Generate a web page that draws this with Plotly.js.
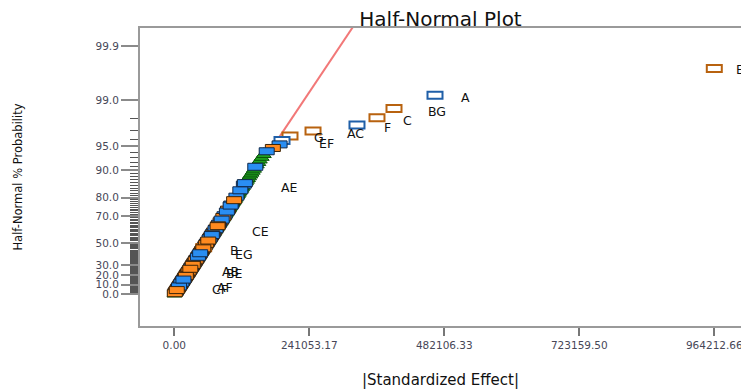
<!DOCTYPE html>
<html>
<head>
<meta charset="utf-8">
<script src="https://cdn.plot.ly/plotly-3.0.1.min.js"></script>
<style>
  html, body { margin: 0; padding: 0; background: #fff; overflow: hidden; }
  #chart { width: 741px; height: 392px; }
</style>
</head>
<body>
<div id="chart"></div>
<script>
// |Standardized effect| of every term, sorted ascending, in thousands
const effectK = [
  0.3, 0.9, 1.5, 2.1, 2.6, 3.2, 3.9, 4.4, 5.0, 5.7,
  6.2, 6.8, 7.5, 8.0, 8.5, 9.2, 9.9, 10.3, 10.9, 11.7,
  12.1, 12.7, 13.5, 13.9, 14.5, 15.3, 15.7, 16.3, 17.0, 17.6,
  18.2, 18.8, 19.3, 20.1, 20.6, 21.2, 22.0, 22.4, 23.1, 23.7,
  24.3, 25.0, 25.5, 26.1, 26.8, 27.5, 28.0, 28.6, 29.3, 29.9,
  30.6, 31.1, 31.9, 32.5, 33.0, 33.8, 34.3, 35.0, 35.7, 36.2,
  37.0, 37.7, 38.2, 39.0, 39.6, 40.2, 41.0, 41.6, 42.2, 42.9,
  43.5, 44.3, 44.9, 45.6, 46.2, 47.0, 47.6, 48.3, 49.1, 49.7,
  50.4, 51.2, 51.8, 52.4, 53.3, 54.1, 54.7, 55.5, 56.2, 56.9,
  57.7, 58.4, 59.3, 60.0, 60.7, 61.6, 62.3, 63.0, 63.8, 64.5,
  65.4, 66.2, 67.0, 67.8, 68.8, 69.4, 70.4, 71.2, 71.9, 72.8,
  73.6, 74.6, 75.5, 76.3, 77.3, 78.1, 79.1, 79.9, 80.9, 81.7,
  82.7, 83.8, 84.6, 85.8, 86.7, 87.5, 88.7, 89.6, 90.7, 91.6,
  92.8, 93.9, 95.1, 96.0, 97.4, 98.3, 99.5, 100.6, 101.8, 102.9,
  104.3, 105.5, 106.8, 108.3, 109.5, 110.9, 112.3, 113.5, 115.0, 116.2,
  117.9, 119.5, 121.0, 122.6, 124.2, 126.0, 127.9, 129.7, 131.5, 133.4,
  135.6, 137.8, 140.0, 142.3, 144.6, 147.2, 150.0, 152.6, 156.0, 159.8,
  165.0, 176.0, 188.0, 192.3, 206.6, 247.7, 326.2, 361.9, 392.3, 465.5, 964.21266
];

// Kind of each term, same order: o = positive effect, b = negative effect,
// g = error estimate, O / B = selected positive / negative term
const termKinds = (
  "gogobogoog" + "oogobogoog" + "obgoogoboo" + "gooboogobo" +
  "ogobogoogb" + "oogboobgoo" + "bgobooggbo" + "ogbbbgoogo" +
  "bgoOobgogo" + "bogboggbog" + "ogbogbgogg" + "boggoogbgg" +
  "ogbggogbgg" + "gbgogggbbg" + "ggoggbgggg" + "bgggbbgggg" +
  "ggggbggggg" + "bobBOOBOOBO"
).split("");

// Term names and where they are written (effect, half-normal %)
const termLabels  = ["E", "A", "BG", "C", "F", "AC", "G", "EF", "AE", "CE", "B", "EG", "AB", "BE", "CF", "AF"];
const labelEffect = [1010100, 519100, 468200, 416400, 380700, 324400, 258400, 271800,
                     205700, 153900, 106600, 125300, 100400, 107500, 81600, 90500];
const labelProb   = [99.707, 99.11, 98.46, 97.88, 97.30, 96.69, 96.23, 95.44,
                     84.09, 59.72, 44.10, 40.47, 22.99, 20.95, 4.77, 6.88];

// Reference line through the origin (effect, half-normal %)
const fitEffect = [0, 332300];
const fitProb   = [0, 99.978];

// Axis ticks
const probTicks     = [0, 10, 20, 30, 50, 70, 80, 90, 95, 99, 99.9];
const probTickText  = ["0.0", "10.0", "20.0", "30.0", "50.0", "70.0", "80.0", "90.0", "95.0", "99.0", "99.9"];
const effectTicks    = [0, 241053.17, 482106.33, 723159.50, 964212.66];
const effectTickText = ["0.00", "241053.17", "482106.33", "723159.50", "964212.66"];

// Inverse standard normal CDF (Acklam's rational approximation)
function probit(p) {
  const a = [-3.969683028665376e+01, 2.209460984245205e+02, -2.759285104469687e+02,
             1.383577518672690e+02, -3.066479806614716e+01, 2.506628277459239e+00];
  const b = [-5.447609879822406e+01, 1.615858368580409e+02, -1.556989798598866e+02,
             6.680131188771972e+01, -1.328068155288572e+01];
  const c = [-7.784894002430293e-03, -3.223964580411365e-01, -2.400758277161838e+00,
             -2.549732539343734e+00, 4.374664141464968e+00, 2.938163982698783e+00];
  const d = [7.784695709041462e-03, 3.224671290700398e-01, 2.445134137142996e+00,
             3.754408661907416e+00];
  const pl = 0.02425, ph = 1 - pl;
  let q, r;
  if (p < pl) {
    q = Math.sqrt(-2 * Math.log(p));
    return (((((c[0]*q + c[1])*q + c[2])*q + c[3])*q + c[4])*q + c[5]) /
           ((((d[0]*q + d[1])*q + d[2])*q + d[3])*q + 1);
  }
  if (p <= ph) {
    q = p - 0.5; r = q * q;
    return (((((a[0]*r + a[1])*r + a[2])*r + a[3])*r + a[4])*r + a[5]) * q /
           (((((b[0]*r + b[1])*r + b[2])*r + b[3])*r + b[4])*r + 1);
  }
  q = Math.sqrt(-2 * Math.log(1 - p));
  return -(((((c[0]*q + c[1])*q + c[2])*q + c[3])*q + c[4])*q + c[5]) /
          ((((d[0]*q + d[1])*q + d[2])*q + d[3])*q + 1);
}
// Half-normal probability scale: percent -> position on the y axis
const halfNormal = pct => probit(0.5 + pct / 200);

// Plotting positions of the ranked effects
const n = effectK.length;
const effects = effectK.map(v => v * 1000);
const ypos = effects.map((_, i) => halfNormal(100 * (i + 0.5) / n));

// Minor ticks at every whole percent
const minorVals = [];
for (let k = 1; k < 99; k++) {
  if (probTicks.indexOf(k) < 0) minorVals.push(halfNormal(k));
}

const kindStyle = {
  o: { fill: "#ff8a1f", line: "#3d2408", width: 1 },
  b: { fill: "#2a8ef2", line: "#11294a", width: 1 },
  O: { fill: "#ffffff", line: "#b8620f", width: 2 },
  B: { fill: "#ffffff", line: "#1f5fa8", width: 2 }
};

// Terms are painted in model-term order rather than by rank, so the
// overlapping markers in the dense part of the band interleave.
const paintOrder = [];
for (let k = 0; k < n; k++) paintOrder.push((k * 67) % n);

// Rectangular markers for the effect terms (pixel-sized, anchored at data points)
const shapes = [];
paintOrder.forEach(i => {
  const s = kindStyle[termKinds[i]];
  if (!s) return;
  shapes.push({
    type: "rect", xref: "x", yref: "y",
    xsizemode: "pixel", ysizemode: "pixel",
    xanchor: effects[i], yanchor: ypos[i],
    x0: -7.5, x1: 7.5, y0: -3.5, y1: 3.5,
    fillcolor: s.fill, line: { color: s.line, width: s.width }
  });
});

const errX = [], errY = [];
effects.forEach((x, i) => { if (termKinds[i] === "g") { errX.push(x); errY.push(ypos[i]); } });

const traces = [
  {
    type: "scatter", mode: "lines",
    x: fitEffect, y: fitProb.map(halfNormal),
    line: { color: "#f27878", width: 2 },
    hoverinfo: "skip"
  },
  {
    type: "scatter", mode: "markers",
    x: errX, y: errY,
    marker: { symbol: "triangle-up", size: 13, color: "#1fa01f", line: { color: "#0b560b", width: 1 } },
    hoverinfo: "x"
  }
];

const annotations = termLabels.map((t, i) => ({
  x: labelEffect[i], y: halfNormal(labelProb[i]),
  xref: "x", yref: "y", text: t, showarrow: false,
  xanchor: "center", yanchor: "middle",
  font: { family: "DejaVu Sans, sans-serif", size: 12.5, color: "#111" }
}));

const tickFont = { family: "DejaVu Sans, sans-serif", size: 10.5, color: "#474757" };

const layout = {
  width: 741, height: 392,
  margin: { l: 140, r: 0, t: 28, b: 66, pad: 0 },
  paper_bgcolor: "#fff", plot_bgcolor: "#fff",
  showlegend: false,
  font: { family: "DejaVu Sans, sans-serif", color: "#111" },
  title: {
    text: "Half-Normal Plot",
    font: { family: "DejaVu Sans, sans-serif", size: 20, color: "#111" },
    xref: "paper", x: 0.5, xanchor: "center",
    yref: "container", y: 1 - 19 / 392, yanchor: "middle"
  },
  xaxis: {
    range: [-61245, 1011890],
    tickmode: "array", tickvals: effectTicks, ticktext: effectTickText,
    ticks: "outside", ticklen: 8, tickwidth: 1.5, tickcolor: "#777",
    ticklabeloverflow: "allow",
    showline: true, linecolor: "#9a9a9a", linewidth: 2, mirror: true,
    showgrid: false, zeroline: false, automargin: false,
    tickfont: tickFont,
    title: { text: "|Standardized Effect|", font: { family: "DejaVu Sans, sans-serif", size: 15, color: "#111" }, standoff: 25 }
  },
  yaxis: {
    range: [-0.425, 3.5325],
    tickmode: "array", tickvals: probTicks.map(halfNormal), ticktext: probTickText,
    ticks: "outside", ticklen: 17, tickwidth: 1.5, tickcolor: "#8a8a8a",
    minor: { tickmode: "array", tickvals: minorVals, ticks: "outside", ticklen: 8, tickwidth: 1, tickcolor: "#555", showgrid: false },
    showline: true, linecolor: "#9a9a9a", linewidth: 2,
    showgrid: false, zeroline: false, automargin: false,
    tickfont: tickFont,
    title: { text: "Half-Normal % Probability", font: { family: "DejaVu Sans, sans-serif", size: 11.5, color: "#111" }, standoff: 70 }
  },
  shapes: shapes,
  annotations: annotations
};

Plotly.newPlot("chart", traces, layout, { displayModeBar: false, responsive: false });
</script>
</body>
</html>
